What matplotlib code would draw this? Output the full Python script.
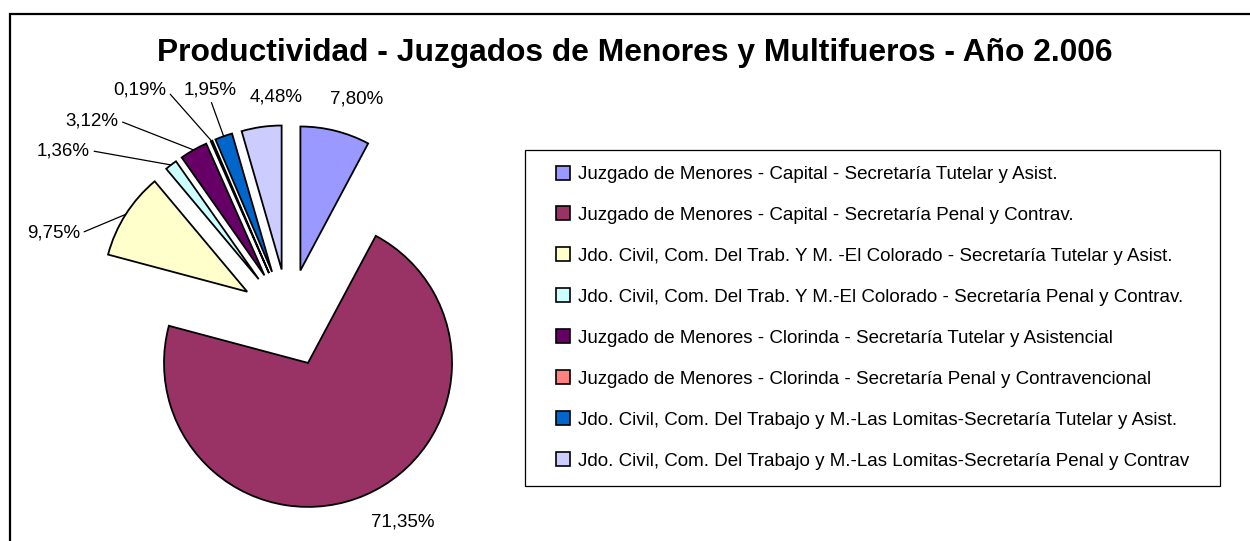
import math
import matplotlib
matplotlib.use("Agg")
import matplotlib.pyplot as plt
from matplotlib import font_manager
from matplotlib.lines import Line2D
from matplotlib.patches import Rectangle

# datos del gráfico
categorias = [
    "Juzgado de Menores - Capital - Secretaría Tutelar y Asist.",
    "Juzgado de Menores - Capital - Secretaría Penal y Contrav.",
    "Jdo. Civil, Com. Del Trab. Y M. -El Colorado - Secretaría Tutelar y Asist.",
    "Jdo. Civil, Com. Del Trab. Y M.-El Colorado - Secretaría Penal y Contrav.",
    "Juzgado de Menores - Clorinda - Secretaría Tutelar y Asistencial",
    "Juzgado de Menores - Clorinda - Secretaría Penal y Contravencional",
    "Jdo. Civil, Com. Del Trabajo y M.-Las Lomitas-Secretaría Tutelar y Asist.",
    "Jdo. Civil, Com. Del Trabajo y M.-Las Lomitas-Secretaría Penal y Contrav",
]
porcentajes = [7.80, 71.35, 9.75, 1.36, 3.12, 0.19, 1.95, 4.48]
colores = ["#9999FF", "#993366", "#FFFFCC", "#CCFFFF",
           "#660066", "#FF8080", "#0066CC", "#CCCCFF"]
titulo = "Productividad - Juzgados de Menores y Multifueros - Año 2.006"

# fuente angosta si existe
nombres = {f.name for f in font_manager.fontManager.ttflist}
if "Liberation Sans Narrow" in nombres:
    fuente, tam = "Liberation Sans Narrow", 15
else:
    fuente, tam = "Liberation Sans", 13.5

W, H = 1250, 541
fig = plt.figure(figsize=(W / 100, H / 100), dpi=100)

# centro y radio de la torta en pixeles (desde arriba)
cx, cy, r = 288.5, 318.0, 144.0


def px(x, y):
    return ((x - cx) / r, (cy - y) / r)


ax = fig.add_axes([0, 0, 1, 1])
wedges, _ = ax.pie(porcentajes, colors=colores, startangle=90, counterclock=False,
                   explode=[0.34] * len(porcentajes), radius=1,
                   wedgeprops=dict(edgecolor="black", linewidth=1.3))
ax.set_xlim(-cx / r, (W - cx) / r)
ax.set_ylim(-(H - cy) / r, cy / r)
ax.set_aspect("auto")
ax.axis("off")

# etiquetas de porcentaje (posición en pixeles, si llevan línea guía)
pos_etiquetas = [(357, 99, None), (403, 522, None), (53.5, 233.5, (1, 0.5)),
                 (63.5, 150.5, (1, 0.5)), (92, 120.5, (1, 0.5)), (140, 90, (1, 0.5)),
                 (210, 90, (0.5, 0)), (276, 96.5, None)]
for w, v, (x, y, rel) in zip(wedges, porcentajes, pos_etiquetas):
    txt = f"{v:.2f}".replace(".", ",") + "%"
    if rel is None:
        ax.text(*px(x, y), txt, ha="center", va="center", fontsize=tam, family=fuente)
    else:
        tm = math.radians((w.theta1 + w.theta2) / 2)
        punto = (w.center[0] + w.r * math.cos(tm), w.center[1] + w.r * math.sin(tm))
        ax.annotate(txt, xy=punto, xytext=px(x, y), ha="center", va="center",
                    fontsize=tam, family=fuente,
                    arrowprops=dict(arrowstyle="-", color="black", lw=0.9,
                                    relpos=rel, shrinkA=1, shrinkB=0))

fig.text(634.5 / W, 1 - 53 / H, titulo, ha="center", va="center",
         fontsize=22.9, fontweight="bold", family="Liberation Sans")

handles = [Line2D([], [], ls="none", marker="s", markersize=9.5, markerfacecolor=c,
                  markeredgecolor="black", markeredgewidth=1.2) for c in colores]
fig.legend(handles, categorias, loc="upper left",
           bbox_to_anchor=(525 / W, (H - 486) / H, 695 / W, 336 / H), mode="expand",
           borderaxespad=0, borderpad=0.85, labelspacing=1.27, handlelength=2.3,
           handletextpad=-0.3, numpoints=1, fancybox=False, frameon=True,
           edgecolor="black", framealpha=1,
           prop=dict(family=fuente, size=tam))
fig.legends[0].get_frame().set_linewidth(0.9)

# marco del gráfico
fig.patches.append(Rectangle((10 / W, -0.05), 1.1, 527 / H + 0.05, transform=fig.transFigure,
                             fill=False, edgecolor="black", linewidth=1.6))

fig.savefig("out.png", dpi=100)
